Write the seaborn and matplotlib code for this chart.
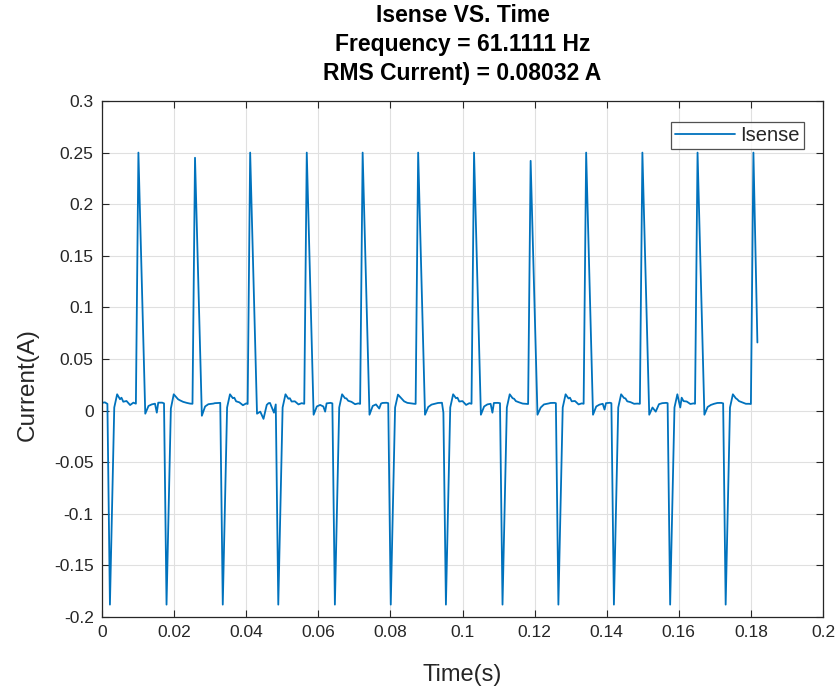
import matplotlib
matplotlib.use("Agg")
import matplotlib.pyplot as plt
import seaborn as sns
import pandas as pd

# ---------------- data ----------------
time_s = [
    0.0000, 0.0008, 0.0015,
    # cycle 1
    0.0022, 0.0034, 0.0042, 0.0050, 0.0054, 0.0059, 0.0068, 0.0078, 0.0087, 0.0094,
    0.0101, 0.0120, 0.0129, 0.0138, 0.0147, 0.0152, 0.0156, 0.0167, 0.0172,
    # cycle 2
    0.0179, 0.0191, 0.0199, 0.0207, 0.0211, 0.0216, 0.0225, 0.0235, 0.0244, 0.0251,
    0.0258, 0.0277, 0.0286, 0.0295, 0.0304, 0.0309, 0.0313, 0.0324, 0.0328,
    # cycle 3
    0.0335, 0.0347, 0.0355, 0.0363, 0.0367, 0.0372, 0.0381, 0.0391, 0.0400, 0.0404,
    0.0411, 0.0430, 0.0439, 0.0448, 0.0457, 0.0462, 0.0466, 0.0477, 0.0482,
    # cycle 4
    0.0489, 0.0501, 0.0509, 0.0517, 0.0521, 0.0526, 0.0535, 0.0545, 0.0554, 0.0561,
    0.0568, 0.0587, 0.0596, 0.0605, 0.0614, 0.0619, 0.0623, 0.0634, 0.0639,
    # cycle 5
    0.0646, 0.0658, 0.0666, 0.0674, 0.0678, 0.0683, 0.0692, 0.0702, 0.0711, 0.0716,
    0.0723, 0.0742, 0.0751, 0.0760, 0.0769, 0.0774, 0.0778, 0.0789, 0.0794,
    # cycle 6
    0.0801, 0.0813, 0.0821, 0.0829, 0.0833, 0.0838, 0.0847, 0.0857, 0.0866, 0.0870,
    0.0877, 0.0896, 0.0905, 0.0914, 0.0923, 0.0928, 0.0932, 0.0943, 0.0947,
    # cycle 7
    0.0954, 0.0966, 0.0974, 0.0982, 0.0986, 0.0991, 0.1000, 0.1010, 0.1019, 0.1025,
    0.1032, 0.1051, 0.1060, 0.1069, 0.1078, 0.1083, 0.1087, 0.1098, 0.1104,
    # cycle 8
    0.1111, 0.1123, 0.1131, 0.1139, 0.1143, 0.1148, 0.1157, 0.1167, 0.1176, 0.1182,
    0.1189, 0.1208, 0.1217, 0.1226, 0.1235, 0.1240, 0.1244, 0.1255, 0.1259,
    # cycle 9
    0.1266, 0.1278, 0.1286, 0.1294, 0.1298, 0.1303, 0.1312, 0.1322, 0.1331, 0.1336,
    0.1343, 0.1362, 0.1371, 0.1380, 0.1389, 0.1394, 0.1398, 0.1409, 0.1413,
    # cycle 10
    0.1420, 0.1432, 0.1440, 0.1448, 0.1452, 0.1457, 0.1466, 0.1476, 0.1485, 0.1492,
    0.1499, 0.1518, 0.1527, 0.1536, 0.1545, 0.1550, 0.1554, 0.1565, 0.1569,
    # cycle 11
    0.1576, 0.1588, 0.1596, 0.1604, 0.1608, 0.1613, 0.1622, 0.1632, 0.1641, 0.1645,
    0.1652, 0.1671, 0.1680, 0.1689, 0.1698, 0.1703, 0.1707, 0.1718, 0.1723,
    # cycle 12
    0.1730, 0.1742, 0.1750, 0.1758, 0.1762, 0.1767, 0.1776, 0.1786, 0.1795, 0.1800,
    0.1807, 0.1818,
]

isense_a = [
    0.0075, 0.0080, 0.0065,
    # cycle 1
    -0.188, 0.003, 0.0158, 0.011, 0.0125, 0.0086, 0.0093, 0.0054, 0.0077, 0.0067,
    0.250, -0.003, 0.0045, 0.0060, 0.0067, -0.002, 0.0077, 0.0077, 0.0070,
    # cycle 2
    -0.188, 0.002, 0.0158, 0.0125, 0.0110, 0.0100, 0.0085, 0.0075, 0.0068, 0.0066,
    0.245, -0.005, 0.0040, 0.0062, 0.0066, 0.0068, 0.0072, 0.0074, 0.0075,
    # cycle 3
    -0.188, 0.003, 0.0158, 0.0120, 0.0125, 0.0090, 0.0080, 0.0052, 0.0070, 0.0064,
    0.250, -0.003, -0.001, -0.008, 0.0055, 0.0072, 0.0074, -0.002, 0.0060,
    # cycle 4
    -0.188, 0.003, 0.0158, 0.0115, 0.0120, 0.0088, 0.0090, 0.0060, 0.0072, 0.0066,
    0.250, -0.004, 0.0040, 0.0055, 0.0040, -0.001, 0.0070, 0.0075, 0.0070,
    # cycle 5
    -0.188, 0.003, 0.0158, 0.0120, 0.0118, 0.0095, 0.0085, 0.0062, 0.0070, 0.0065,
    0.250, -0.004, 0.0045, 0.0060, 0.0020, 0.0068, 0.0074, 0.0076, 0.0072,
    # cycle 6
    -0.188, 0.003, 0.0155, 0.0125, 0.0110, 0.0090, 0.0075, 0.0070, 0.0066, 0.0065,
    0.250, -0.004, 0.0035, 0.0058, 0.0066, 0.0070, 0.0074, 0.0076, -0.002,
    # cycle 7
    -0.188, 0.003, 0.0158, 0.0120, 0.0125, 0.0088, 0.0092, 0.0055, 0.0072, 0.0066,
    0.250, -0.004, 0.0040, 0.0060, 0.0066, -0.002, 0.0074, 0.0075, 0.0072,
    # cycle 8
    -0.188, 0.003, 0.0158, 0.0120, 0.0115, 0.0092, 0.0080, 0.0068, 0.0066, 0.0064,
    0.242, -0.004, 0.0030, 0.0060, 0.0066, 0.0070, 0.0074, 0.0075, 0.0072,
    # cycle 9
    -0.188, 0.003, 0.0158, 0.0118, 0.0125, 0.0090, 0.0093, 0.0060, 0.0070, 0.0066,
    0.250, -0.004, 0.0040, 0.0058, 0.0066, 0.0010, 0.0072, 0.0076, 0.0072,
    # cycle 10
    -0.188, 0.003, 0.0158, 0.0122, 0.0118, 0.0090, 0.0082, 0.0066, 0.0068, 0.0066,
    0.250, -0.004, 0.0030, -0.001, 0.0062, 0.0068, 0.0072, 0.0075, 0.0072,
    # cycle 11
    -0.188, 0.003, 0.0158, 0.0030, 0.0125, 0.0092, 0.0088, 0.0064, 0.0070, 0.0066,
    0.250, -0.004, 0.0035, 0.0055, 0.0066, 0.0070, 0.0074, 0.0075, 0.0070,
    # cycle 12
    -0.188, 0.003, 0.0158, 0.0120, 0.0110, 0.0092, 0.0080, 0.0066, 0.0066, 0.0064,
    0.250, 0.066,
]

x_ticks = [0.00, 0.02, 0.04, 0.06, 0.08, 0.10, 0.12, 0.14, 0.16, 0.18, 0.20]
x_tick_labels = ["0", "0.02", "0.04", "0.06", "0.08", "0.1", "0.12", "0.14", "0.16", "0.18", "0.2"]
y_ticks = [-0.20, -0.15, -0.10, -0.05, 0.00, 0.05, 0.10, 0.15, 0.20, 0.25, 0.30]
y_tick_labels = ["-0.2", "-0.15", "-0.1", "-0.05", "0", "0.05", "0.1", "0.15", "0.2", "0.25", "0.3"]

title_lines = ["Isense VS. Time", "Frequency = 61.1111 Hz", "RMS Current) = 0.08032 A"]
series_name = "Isense"

df = pd.DataFrame({"Time(s)": time_s, "Current(A)": isense_a})

# ---------------- style ----------------
sns.set_theme(style="white")
plt.rcParams["font.family"] = ["Liberation Sans", "DejaVu Sans"]

tick_fs = 12.5
xlabel_fs = 17
ylabel_fs = 17.5
title_fs = 16.5
legend_fs = 14.5

text_col = "#262626"
fig = plt.figure(figsize=(8.39, 6.88), dpi=100, facecolor="white")
ax = fig.add_axes([102 / 839, 1 - 617 / 688, (823 - 102) / 839, (617 - 101) / 688])
ax.set_facecolor("white")

sns.lineplot(data=df, x="Time(s)", y="Current(A)", ax=ax, color="#0072BD",
             linewidth=1.3, label=series_name, sort=False, estimator=None)

ax.set_xlim(0, 0.2)
ax.set_ylim(-0.2, 0.3)
ax.set_xticks(x_ticks)
ax.set_xticklabels(x_tick_labels)
ax.set_yticks(y_ticks)
ax.set_yticklabels(y_tick_labels)

ax.grid(True, color="#e0e0e0", linewidth=0.8)
ax.set_axisbelow(True)
for s in ax.spines.values():
    s.set_visible(True)
    s.set_color(text_col)
    s.set_linewidth(0.9)
ax.tick_params(axis="both", which="major", direction="in", length=5, width=0.8,
               color=text_col, labelcolor=text_col, labelsize=tick_fs,
               top=True, right=True, bottom=True, left=True, pad=6)

ax.set_xlabel("Time(s)", fontsize=xlabel_fs, color=text_col, labelpad=17)
ax.set_ylabel("Current(A)", fontsize=ylabel_fs, color=text_col)
ax.yaxis.set_label_coords(-0.088, 0.45)
ax.set_title("\n".join(title_lines), fontsize=title_fs, fontweight="bold",
             color="black", linespacing=1.35, pad=15)

leg = ax.legend(loc="upper right", bbox_to_anchor=(0.9736, 0.9593), borderaxespad=0,
                fancybox=False, frameon=True, fontsize=legend_fs, handlelength=3.0,
                handletextpad=0.25, borderpad=0.2)
leg.get_frame().set_edgecolor(text_col)
leg.get_frame().set_linewidth(0.9)
for t in leg.get_texts():
    t.set_color(text_col)

fig.savefig("out.png", dpi=100, facecolor="white")
